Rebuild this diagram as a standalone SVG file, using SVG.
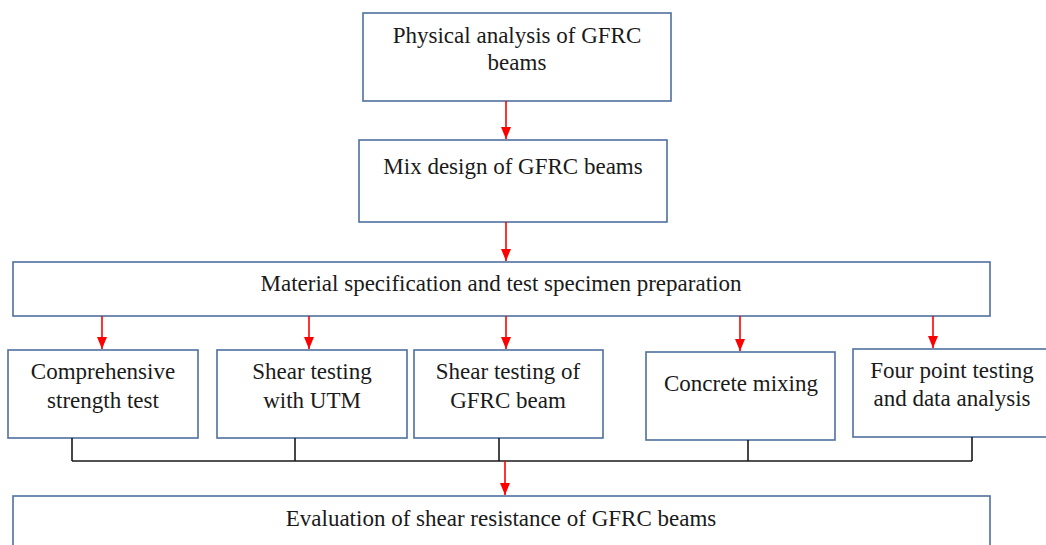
<svg xmlns="http://www.w3.org/2000/svg" width="1046" height="545" viewBox="0 0 1046 545">
  <style>
    .box { fill: #ffffff; stroke: #4f6f9e; stroke-width: 1.6; }
    .lbl { font-family: "Liberation Serif", "Times New Roman", serif; font-size: 23px; fill: #1a1a1a; text-anchor: middle; }
    .flow { stroke: #ff0000; stroke-width: 1.6; fill: none; marker-end: url(#head); }
    .join { stroke: #1a1a1a; stroke-width: 1.6; fill: none; }
  </style>
  <defs>
    <marker id="head" viewBox="0 0 12 10" refX="12" refY="5" markerWidth="12" markerHeight="11" markerUnits="userSpaceOnUse" orient="auto">
      <path d="M0,0 L12,5 L0,10 Z" fill="#ff0000"/>
    </marker>
  </defs>
  <rect width="1046" height="545" fill="#ffffff"/>

  <g id="physical-analysis">
    <rect class="box" x="363" y="13" width="308" height="88"/>
    <text class="lbl" x="517" y="43">Physical analysis of GFRC</text>
    <text class="lbl" x="517" y="70">beams</text>
  </g>
  <g id="mix-design">
    <rect class="box" x="359" y="140" width="308" height="82"/>
    <text class="lbl" x="513" y="174">Mix design of GFRC beams</text>
  </g>
  <g id="material-spec">
    <rect class="box" x="13" y="262" width="977" height="54"/>
    <text class="lbl" x="501" y="291">Material specification and test specimen preparation</text>
  </g>
  <g id="compressive-test">
    <rect class="box" x="8" y="350" width="190" height="88"/>
    <text class="lbl" x="103" y="379">Comprehensive</text>
    <text class="lbl" x="103" y="408">strength test</text>
  </g>
  <g id="shear-utm">
    <rect class="box" x="217" y="350" width="190" height="88"/>
    <text class="lbl" x="312" y="379">Shear testing</text>
    <text class="lbl" x="312" y="408">with UTM</text>
  </g>
  <g id="shear-beam">
    <rect class="box" x="414" y="350" width="189" height="88"/>
    <text class="lbl" x="508" y="379">Shear testing of</text>
    <text class="lbl" x="508" y="408">GFRC beam</text>
  </g>
  <g id="concrete-mixing">
    <rect class="box" x="646" y="352" width="189" height="88"/>
    <text class="lbl" x="741" y="391">Concrete mixing</text>
  </g>
  <g id="four-point">
    <rect class="box" x="853" y="349" width="200" height="88"/>
    <text class="lbl" x="952" y="378">Four point testing</text>
    <text class="lbl" x="952" y="406">and data analysis</text>
  </g>
  <g id="evaluation">
    <rect class="box" x="13" y="496" width="977" height="60"/>
    <text class="lbl" x="501" y="526">Evaluation of shear resistance of GFRC beams</text>
  </g>

  <g id="connectors">
    <line class="flow" x1="506" y1="101" x2="506" y2="139"/>
    <line class="flow" x1="506" y1="222" x2="506" y2="261"/>
    <line class="flow" x1="102" y1="316" x2="102" y2="349"/>
    <line class="flow" x1="309" y1="316" x2="309" y2="349"/>
    <line class="flow" x1="506" y1="316" x2="506" y2="349"/>
    <line class="flow" x1="740" y1="316" x2="740" y2="351"/>
    <line class="flow" x1="933" y1="316" x2="933" y2="348"/>
    <path class="join" d="M72,438 V461 M295,438 V461 M499,438 V461 M748,440 V461 M972,437 V461 M72,461 H972"/>
    <line class="flow" x1="505" y1="461" x2="505" y2="495"/>
  </g>
</svg>
